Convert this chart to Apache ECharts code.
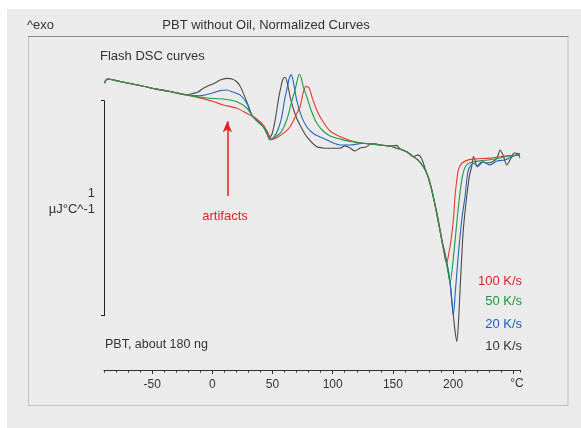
<!DOCTYPE html>
<html><head><meta charset="utf-8">
<script src="https://cdn.jsdelivr.net/npm/echarts@6/dist/echarts.min.js"></script>
<style>html,body{margin:0;padding:0;background:#fff}#c{width:581px;height:428px}</style>
</head><body><div id="c"></div><script>
// ---- data (temperature in °C, normalized heat flow in µJ/°C, exo up) ----
const rates = ['100 K/s', '50 K/s', '20 K/s', '10 K/s'];
const rateColors = ['#e8392c', '#1f9a45', '#2366c2', '#4a4a4a'];
const labelColors = ['#e4202a', '#1a9a3f', '#1f5fbf', '#333333'];
const labeledTicks = [-50, 0, 50, 100, 150, 200];
const majorTicks = [-50, 0, 50, 100, 150, 200, 250];

const startPart = [[-89.5,1.082],[-88.5,1.095],[-86.6,1.101],[-76.7,1.089],[-60.1,1.071],[-46.2,1.054],[-35.2,1.043],[-21.3,1.027]];
const midPart = [[139.3,0.794],[147.6,0.789],[153.2,0.779],[161.5,0.763],[167.0,0.740],[170.9,0.724],[175.3,0.693],[178.4,0.659],[180.9,0.616],[183.8,0.547],[186.4,0.476],[190.6,0.352]];

const red100 = [[-10.2,1.013],[0.8,0.996],[9.1,0.980],[20.3,0.965],[25.8,0.950],[31.3,0.933],[36.9,0.915],[42.4,0.887],[46.3,0.850],[49.4,0.820],[52.9,0.827],[58.7,0.847],[64.6,0.879],[69.5,0.933],[72.9,0.972],[75.4,1.036],[77.8,1.068],[80.4,1.059],[82.8,1.017],[86.7,0.957],[91.1,0.910],[97.8,0.859],[106.1,0.833],[114.4,0.815],[125.2,0.802]];
const red100End = [[193.3,0.268],[194.8,0.247],[196.2,0.282],[198.3,0.352],[200.2,0.445],[201.6,0.553],[203.1,0.631],[204.4,0.678],[207.2,0.709],[214.1,0.727],[230.7,0.733],[243.1,0.743],[255.6,0.747]];

const green50 = [[-10.2,1.017],[0.8,1.010],[9.1,1.008],[20.3,0.995],[28.6,0.966],[32.8,0.933],[38.0,0.901],[42.4,0.878],[46.3,0.836],[47.9,0.820],[52.1,0.831],[57.1,0.854],[61.8,0.910],[65.4,0.985],[68.7,1.050],[71.2,1.110],[72.3,1.123],[73.7,1.110],[75.4,1.068],[78.4,1.019],[82.0,0.957],[86.7,0.896],[92.0,0.859],[97.8,0.836],[106.1,0.822],[114.4,0.810],[125.2,0.802]];
const green50End = [[194.2,0.250],[195.9,0.199],[197.5,0.153],[199.5,0.230],[201.5,0.340],[203.3,0.445],[205.5,0.560],[207.5,0.640],[209.5,0.685],[212.0,0.705],[216.0,0.715],[222.4,0.720],[234.8,0.729],[247.3,0.743],[255.6,0.747]];

const blue20 = [[-10.2,1.023],[0.8,1.037],[6.4,1.047],[12.0,1.050],[17.2,1.040],[23.0,1.027],[28.6,0.988],[32.8,0.933],[37.1,0.906],[42.4,0.879],[45.5,0.845],[47.9,0.817],[51.2,0.831],[54.5,0.864],[57.7,0.926],[60.0,1.003],[61.8,1.050],[63.8,1.101],[65.4,1.120],[67.0,1.096],[70.1,1.003],[73.7,0.933],[78.4,0.879],[84.5,0.845],[92.2,0.825],[106.1,0.794],[114.4,0.794],[125.2,0.802]];
const blue20End = [[194.8,0.247],[197.5,0.153],[200.2,0.003],[202.0,0.120],[204.0,0.259],[207.2,0.445],[209.9,0.553],[212.7,0.678],[216.8,0.709],[220.7,0.696],[224.9,0.715],[230.7,0.701],[236.5,0.720],[243.1,0.724],[248.9,0.738],[253.9,0.752],[255.6,0.733]];

const black10 = [[-15.8,1.034],[-11.9,1.040],[-7.5,1.058],[-1.9,1.073],[2.2,1.082],[6.4,1.096],[12.0,1.104],[16.4,1.101],[20.3,1.088],[23.0,1.068],[25.8,1.034],[29.7,0.980],[32.8,0.933],[37.1,0.906],[42.4,0.879],[45.5,0.850],[47.1,0.825],[49.6,0.845],[52.5,0.919],[54.8,1.003],[57.1,1.068],[58.7,1.101],[60.4,1.109],[62.1,1.087],[64.6,1.019],[67.1,0.966],[70.1,0.918],[73.7,0.878],[78.4,0.833],[86.7,0.786],[92.0,0.780],[97.8,0.779],[106.1,0.779],[110.2,0.790],[114.4,0.780],[118.6,0.766],[122.7,0.780],[127.7,0.785],[132.7,0.801],[136.9,0.798],
  [139.3,0.794],[147.6,0.789],[153.2,0.792],[156.0,0.775],[161.5,0.763],[167.0,0.740],[170.9,0.748],[173.5,0.735],[176.5,0.690],[179.5,0.640],[182.0,0.590],[184.5,0.530],[186.9,0.470],[190.8,0.352],
  [194.8,0.247],[197.5,0.153],[200.2,0.003],[201.6,-0.070],[203.1,-0.121],[204.6,-0.020],[206.2,0.166],[208.5,0.399],[211.3,0.553],[213.7,0.654],[215.5,0.693],[216.8,0.740],[218.3,0.724],[219.9,0.692],[222.4,0.710],[224.9,0.716],[228.3,0.710],[232.4,0.715],[236.5,0.733],[239.0,0.771],[241.5,0.747],[244.6,0.701],[247.3,0.724],[250.7,0.757],[255.6,0.752]];

const arrowTemp = 12.5, arrowFrom = 0.557, arrowTo = 0.905;

const seriesData = [
  startPart.concat(red100, midPart, red100End),
  startPart.concat(green50, midPart, green50End),
  startPart.concat(blue20, midPart, blue20End),
  startPart.concat(black10)
];

const chart = echarts.init(document.getElementById('c'), null, {renderer: 'canvas'});
const FONT = '"Liberation Sans", Arial, sans-serif';

const order = [3, 2, 0, 1];
const series = order.map(i => ({
  name: rates[i], type: 'line', data: seriesData[i], showSymbol: false, clip: false,
  smooth: 0.25, lineStyle: {color: rateColors[i], width: 1.1}, itemStyle: {color: rateColors[i]},
  z: 3 + order.indexOf(i), silent: true, animation: false
}));
series[series.length - 1].markLine = {
  silent: true, animation: false, symbol: ['none', 'arrow'], symbolSize: [7, 11],
  lineStyle: {color: '#e0201c', width: 1.5, type: 'solid'}, label: {show: false},
  data: [[{coord: [arrowTemp, arrowFrom]}, {coord: [arrowTemp, arrowTo]}]]
};

const txt = (text, x, y, size, color, align) => ({
  type: 'text', x: x, y: y, z: 50,
  style: {text: text, font: size + 'px ' + FONT, fill: color, align: align || 'left', verticalAlign: 'middle'}
});

const graphics = [
  {type: 'rect', z: -20, shape: {x: 7, y: 9, width: 574, height: 419}, style: {fill: '#ebebeb'}},
  {type: 'rect', z: -10, shape: {x: 28.5, y: 36.5, width: 539.5, height: 369}, style: {fill: 'none', stroke: '#c2c2c2', lineWidth: 1}},
  {type: 'line', z: -9, shape: {x1: 28, y1: 36.5, x2: 568.5, y2: 36.5}, style: {stroke: '#8a8a8a', lineWidth: 1}},
  txt('^exo', 27, 25, 13, '#333'),
  txt('PBT without Oil, Normalized Curves', 266, 25, 13, '#333', 'center'),
  txt('Flash DSC curves', 100, 56, 13, '#333'),
  txt('artifacts', 225, 216, 13, '#e4202a', 'center'),
  txt('PBT, about 180 ng', 105, 345, 12.5, '#333'),
  txt('1', 95, 193, 13, '#333', 'right'),
  txt('µJ°C^-1', 95, 209, 13, '#333', 'right'),
  txt('°C', 517, 384, 12, '#333', 'center')
];
const legendY = [281.5, 301.5, 324, 346];
rates.forEach((r, i) => graphics.push(txt(r, 522, legendY[i], 13, labelColors[i], 'right')));

chart.setOption({
  animation: false,
  backgroundColor: '#ffffff',
  grid: {left: 104, right: 61, top: 100.7, bottom: 112.3, containLabel: false},
  xAxis: [
    {type: 'value', min: -90, max: 255.6, position: 'bottom', offset: 54.3,
     axisLine: {show: true, onZero: false, lineStyle: {color: '#333', width: 1}},
     axisTick: {show: true, customValues: majorTicks, length: 4, lineStyle: {color: '#333'}},
     axisLabel: {show: true, customValues: labeledTicks, fontSize: 12, fontFamily: FONT, color: '#333', margin: 9},
     splitLine: {show: false}},
    {type: 'value', min: -90, max: 255.6, interval: 10, position: 'bottom', offset: 54.3,
     axisLine: {show: false, onZero: false},
     axisTick: {show: true, length: 2.5, lineStyle: {color: '#333'}},
     axisLabel: {show: false}, splitLine: {show: false}}
  ],
  yAxis: {type: 'value', min: 0, max: 1, interval: 1,
    axisLine: {show: true, onZero: false, lineStyle: {color: '#222', width: 1}},
    axisTick: {show: true, length: 3, lineStyle: {color: '#222'}},
    axisLabel: {show: false}, splitLine: {show: false}},
  graphic: graphics,
  series: series
});
</script></body></html>
